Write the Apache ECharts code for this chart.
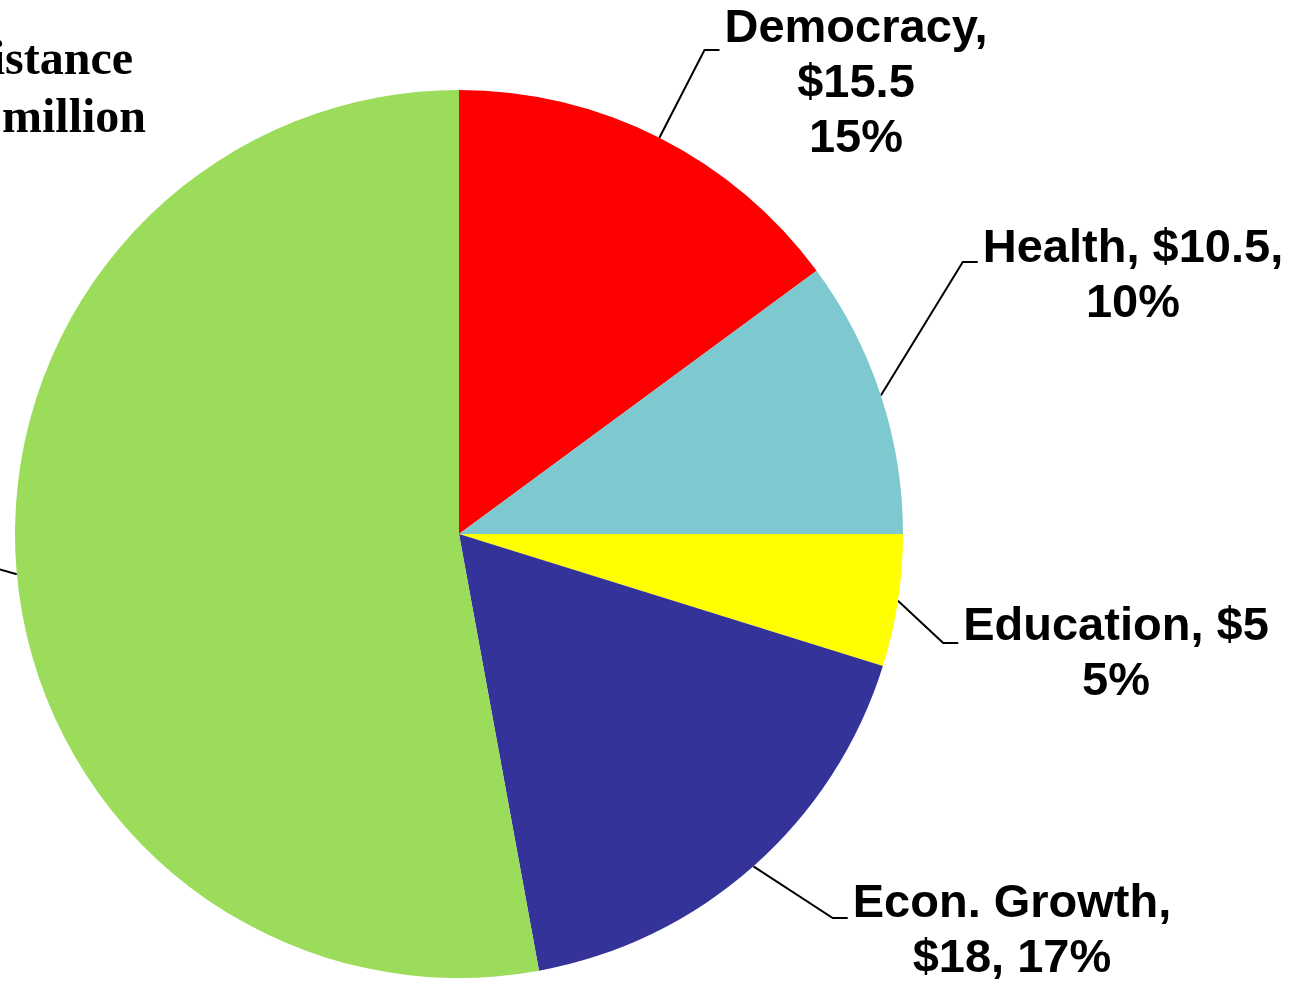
<!DOCTYPE html>
<html>
<head>
    <meta charset="UTF-8">
    <title>Assistance by sector</title>
    <script src="https://cdn.jsdelivr.net/npm/echarts@6/dist/echarts.min.js"></script>
    <style>
        html, body { margin: 0; padding: 0; background: #fff; }
        #chart { width: 1307px; height: 984px; }
    </style>
</head>
<body>
<div id="chart"></div>
<script type="text/javascript">
    // slices, clockwise from 12 o'clock ($ million)
    var sectors = ['Democracy', 'Health', 'Education', 'Econ. Growth', 'Humanitarian Assistance'];
    var amounts = [15.5, 10.5, 5, 18, 55];
    var labelTexts = [
        'Democracy,\n$15.5\n15%',
        'Health, $10.5,\n10%',
        'Education, $5\n5%',
        'Econ. Growth,\n$18, 17%',
        '{a|Humanitarian Assistance}\n{b|$55 million}'
    ];
    var colors = ['#ff0000', '#7ec8d0', '#ffff00', '#333399', '#9bdc5a'];

    // where each label sits (x, top y, align) and how far down its leader line meets it
    var labelPos = [
        { x: 856, y: 2, align: 'center', dy: 48 },
        { x: 1133, y: 222, align: 'center', dy: 40 },
        { x: 1116, y: 600, align: 'center', dy: 43 },
        { x: 1012, y: 877, align: 'center', dy: 41 },
        { x: 146, y: 33, align: 'right', dy: 0 }
    ];

    var pieData = [];
    for (var i = 0; i < sectors.length; i++) {
        var item = {
            name: sectors[i],
            value: amounts[i],
            itemStyle: { color: colors[i] }
        };
        if (i === 4) {
            item.label = {
                fontFamily: '"Liberation Serif", "Times New Roman", serif',
                rich: {
                    a: { fontFamily: '"Liberation Serif", serif', fontWeight: 'bold', fontSize: 48, lineHeight: 58, padding: [0, 13, 0, 0], color: '#000' },
                    b: { fontFamily: '"Liberation Serif", serif', fontWeight: 'bold', fontSize: 48, lineHeight: 58, color: '#000' }
                }
            };
        }
        pieData.push(item);
    }

    var myChart = echarts.init(document.getElementById('chart'), null, { renderer: 'canvas' });

    myChart.setOption({
        animation: false,
        backgroundColor: '#ffffff',
        series: [{
            type: 'pie',
            center: [459, 534],
            radius: 444,
            startAngle: 90,
            clockwise: true,
            avoidLabelOverlap: false,
            data: pieData,
            itemStyle: { borderWidth: 0 },
            label: {
                show: true,
                position: 'outside',
                color: '#000',
                fontFamily: '"Liberation Sans", Arial, sans-serif',
                fontWeight: 'bold',
                fontSize: 47,
                lineHeight: 55,
                formatter: function (p) {
                    return labelTexts[p.dataIndex];
                }
            },
            labelLine: {
                show: true,
                length: 20,
                length2: 15,
                lineStyle: { color: '#000', width: 2 }
            },
            labelLayout: function (p) {
                var pos = labelPos[p.dataIndex];
                var anchor = p.labelLinePoints ? p.labelLinePoints[0] : [0, 0];
                var pts;
                if (pos.align === 'center') {
                    var endX = pos.x - p.labelRect.width / 2 - 5;
                    var lineY = pos.y + pos.dy;
                    pts = [anchor, [endX - 15, lineY], [endX, lineY]];
                } else {
                    // leader runs off the left edge
                    pts = [anchor, [anchor[0] - 50, anchor[1] - 14], [anchor[0] - 70, anchor[1] - 14]];
                }
                return {
                    x: pos.x,
                    y: pos.y,
                    align: pos.align,
                    verticalAlign: 'top',
                    labelLinePoints: pts
                };
            }
        }]
    });
</script>
</body>
</html>
